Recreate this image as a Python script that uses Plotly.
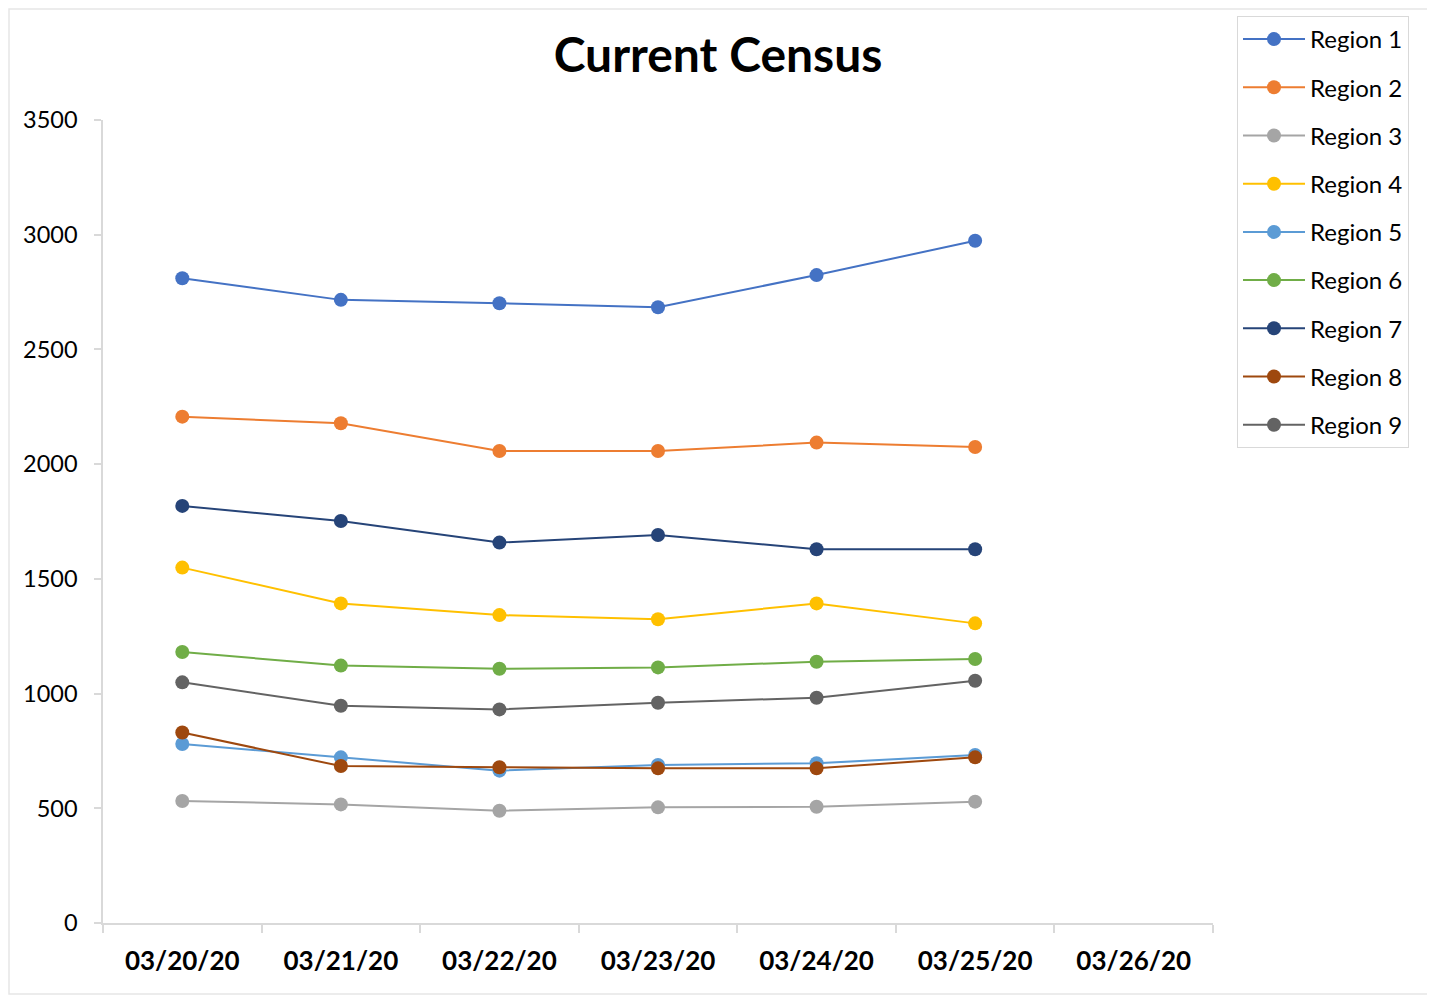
import plotly.graph_objects as go

dates = ["03/20/20", "03/21/20", "03/22/20", "03/23/20", "03/24/20", "03/25/20", "03/26/20"]
region_names = ["Region 1", "Region 2", "Region 3", "Region 4", "Region 5",
                "Region 6", "Region 7", "Region 8", "Region 9"]
region_1 = [2810, 2716, 2701, 2684, 2824, 2974]
region_2 = [2207, 2178, 2057, 2057, 2094, 2075]
region_3 = [532, 517, 489, 504, 507, 529]
region_4 = [1549, 1393, 1342, 1324, 1393, 1306]
region_5 = [780, 722, 664, 689, 696, 732]
region_6 = [1181, 1122, 1108, 1114, 1139, 1151]
region_7 = [1818, 1752, 1658, 1691, 1629, 1629]
region_8 = [830, 684, 679, 674, 674, 722]
region_9 = [1049, 947, 931, 960, 982, 1056]
colors = ["#4472C4", "#ED7D31", "#A5A5A5", "#FFC000", "#5B9BD5",
          "#70AD47", "#264478", "#9E480E", "#636363"]

series = [region_1, region_2, region_3, region_4, region_5,
          region_6, region_7, region_8, region_9]

FONT = "Lato, 'Open Sans', sans-serif"

fig = go.Figure()
for name, vals, col in zip(region_names, series, colors):
    fig.add_trace(go.Scatter(
        x=dates[:len(vals)], y=vals, name=name, mode="lines+markers",
        line=dict(color=col, width=2),
        marker=dict(color=col, size=14),
        legendgroup=name,
    ))

# page has an 8px body margin, so the figure is placed at (8, 8)
fig.update_layout(
    width=1435, height=995,
    margin=dict(l=95, r=230, t=112, b=80, autoexpand=False),
    paper_bgcolor="white", plot_bgcolor="white",
    font=dict(family=FONT, color="#000000"),
    title=dict(text="<b>Current Census</b>", x=(718 - 8) / 1435, xref="container",
               xanchor="center", y=1 - (55 - 8) / 995, yref="container", yanchor="middle",
               font=dict(size=48, family=FONT, color="#000000")),
    showlegend=True,
    legend=dict(x=(1237 - 8) / 1435, y=1 - (16 - 8) / 995, xanchor="left", yanchor="top",
                xref="container", yref="container",
                bordercolor="#d9d9d9", borderwidth=1,
                font=dict(size=24, family=FONT, color="#000000"),
                tracegroupgap=14, traceorder="grouped",
                itemwidth=62),
    xaxis=dict(type="category", categoryorder="array", categoryarray=dates,
               range=[-0.5, 6.5], showgrid=False, showline=True,
               linecolor="#d9d9d9", linewidth=1.5, ticks="outside",
               tickson="boundaries", ticklen=8, tickcolor="#d9d9d9",
               tickwidth=1.5,
               tickfont=dict(size=26, family=FONT, color="#000000", weight="bold"),
               ticklabelstandoff=14, zeroline=False),
    yaxis=dict(range=[0, 3500], tickvals=[0, 500, 1000, 1500, 2000, 2500, 3000, 3500],
               showgrid=False, showline=True, linecolor="#d9d9d9", linewidth=1.5,
               ticks="outside", ticklen=7, tickcolor="#d9d9d9", tickwidth=1.5,
               tickfont=dict(size=23.5, family=FONT, color="#000000"),
               ticklabelstandoff=12, zeroline=False),
    shapes=[dict(type="rect", xref="paper", yref="paper",
                 x0=(9 - 103) / 1110, x1=(1432 - 103) / 1110,
                 y0=(923 - 994) / 803, y1=(923 - 9) / 803,
                 line=dict(color="#e6e6e6", width=1.5), layer="below")],
)

fig.write_html("out.html")
